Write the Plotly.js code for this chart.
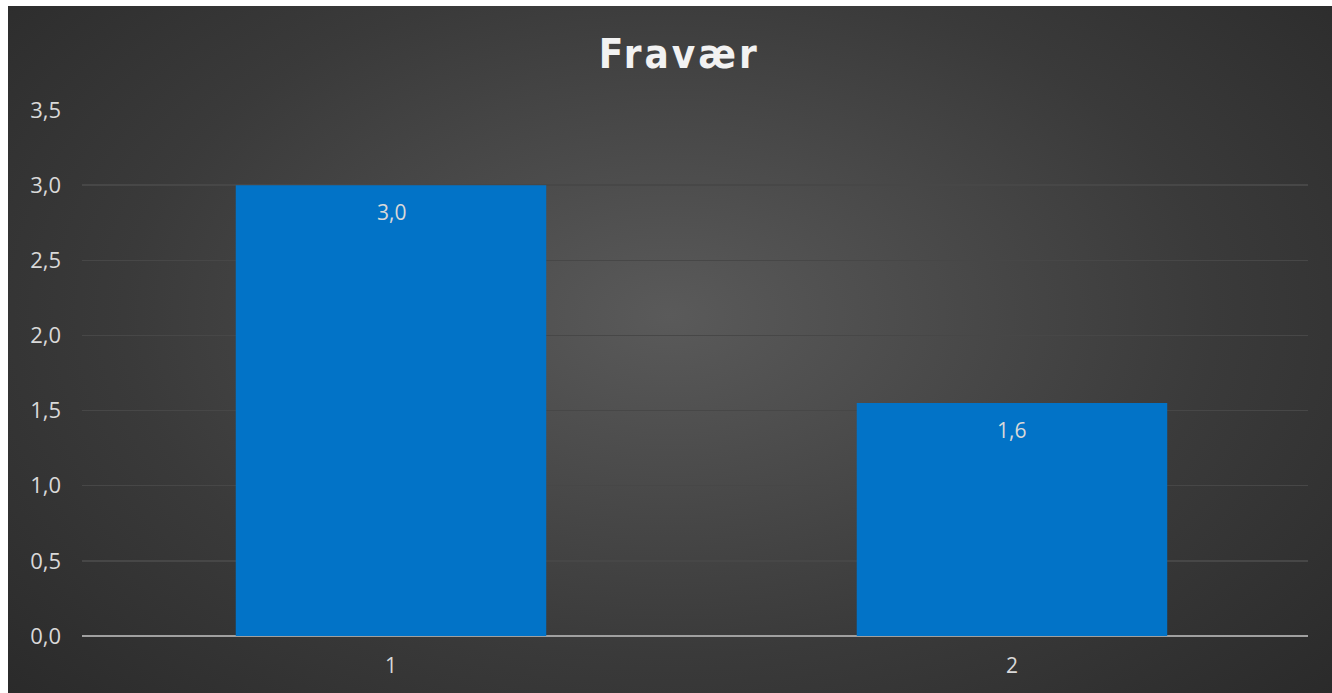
<!DOCTYPE html>
<html>
<head>
<meta charset="utf-8">
<script src="https://cdn.plot.ly/plotly-3.0.1.min.js"></script>
<style>
  html, body { margin: 0; padding: 0; background: #ffffff; }
  #chart {
    position: absolute; left: 8px; top: 6px; width: 1324px; height: 687px;
    background: radial-gradient(ellipse 75% 90% at 50% 45%, #5a5a5a 0%, #3a3a3a 55%, #262626 100%);
  }
  .gtitle { letter-spacing: 3px; }
</style>
</head>
<body>
<div id="chart"></div>
<script>
const categories = ["1", "2"];
const values = [3.0, 1.55];
const valueLabels = ["3,0", "1,6"];
const yTickValues = [0, 0.5, 1, 1.5, 2, 2.5, 3, 3.5];
const chartTitle = "Fravær";

const data = [{
  type: "bar",
  x: categories,
  y: values,
  marker: { color: "#0273C7", line: { width: 0 } },
  hoverinfo: "none"
}];

const annotations = categories.map((c, i) => ({
  x: i, y: values[i], xref: "x", yref: "y",
  text: valueLabels[i], showarrow: false,
  yanchor: "middle", yshift: -27,
  font: { family: "Open Sans, Noto Sans, sans-serif", size: 21, color: "#d9d9d9" }
}));

const layout = {
  width: 1324, height: 687,
  paper_bgcolor: "rgba(0,0,0,0)",
  plot_bgcolor: "rgba(0,0,0,0)",
  separators: ",.",
  margin: { l: 74, r: 24, t: 104, b: 57 },
  showlegend: false,
  bargap: 0.5,
  title: {
    text: "<b>" + chartTitle + "</b>",
    x: 0.507, xanchor: "center",
    y: 1 - 48 / 687, yref: "container", yanchor: "middle",
    font: { family: "DejaVu Sans Condensed, DejaVu Sans, sans-serif", size: 40, color: "#f2f2f2" }
  },
  xaxis: {
    type: "category",
    range: [-0.4976, 1.4767],
    autorange: false,
    tickfont: { family: "Open Sans, Noto Sans, sans-serif", size: 21, color: "#d9d9d9" },
    showgrid: false, zeroline: false,
    showline: false, ticks: "", ticklen: 0, ticklabelstandoff: 15
  },
  yaxis: {
    range: [0, 3.5],
    autorange: false,
    tickvals: yTickValues,
    tickformat: ".1f",
    tickfont: { family: "Open Sans, Noto Sans, sans-serif", size: 22, color: "#d9d9d9" },
    showgrid: true, gridcolor: "#474747", gridwidth: 1.5,
    zeroline: true, zerolinecolor: "#a0a0a0", zerolinewidth: 2.5,
    showline: false, ticks: "", ticklabelstandoff: 20
  },
  annotations: annotations
};

Plotly.newPlot("chart", data, layout, { displayModeBar: false, staticPlot: true });
</script>
</body>
</html>
